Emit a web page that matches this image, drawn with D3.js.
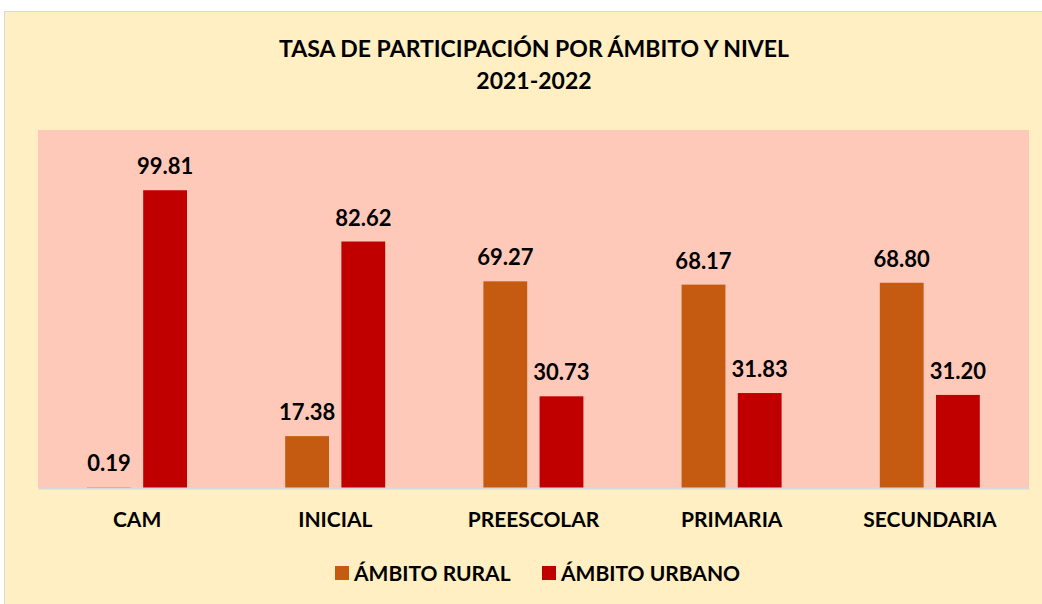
<!DOCTYPE html>
<html>
<head>
<meta charset="utf-8">
<script src="https://cdn.jsdelivr.net/npm/d3@7"></script>
<style>
  html, body { margin: 0; padding: 0; background: #ffffff; }
  svg text { font-family: Lato, "Open Sans", "Liberation Sans", sans-serif; font-weight: bold; fill: #000; }
</style>
</head>
<body>
<svg id="chart" width="1042" height="604"></svg>
<script>
// Participation rate by area and level, 2021-2022
const categories = ["CAM", "INICIAL", "PREESCOLAR", "PRIMARIA", "SECUNDARIA"];
const seriesNames = ["ÁMBITO RURAL", "ÁMBITO URBANO"];
const rural = [0.19, 17.38, 69.27, 68.17, 68.80];
const urbano = [99.81, 82.62, 30.73, 31.83, 31.20];
const titleLines = ["TASA DE PARTICIPACIÓN POR ÁMBITO Y NIVEL", "2021-2022"];

const colors = ["#C55A11", "#C00000"];
const plot = { left: 38, right: 1029, top: 130, bottom: 488 };

const svg = d3.select("#chart");

// outer chart area
svg.append("rect")
  .attr("x", 4.5).attr("y", 11.5).attr("width", 1040).attr("height", 600)
  .attr("fill", "#FFEFC2").attr("stroke", "#d9d9d9").attr("stroke-width", 1);

// plot area
svg.append("rect")
  .attr("x", plot.left).attr("y", plot.top)
  .attr("width", plot.right - plot.left).attr("height", plot.bottom - plot.top)
  .attr("fill", "#FFC9BA");

// title
svg.append("g").selectAll("text").data(titleLines).join("text")
  .attr("x", 534).attr("y", (d, i) => 57 + i * 32)
  .attr("text-anchor", "middle")
  .attr("font-size", 23)
  .text(d => d);

const x0 = d3.scaleBand().domain(categories).range([plot.left, plot.right]).padding(0);
const x1 = d3.scaleBand().domain(seriesNames).range([49, 149]).paddingInner(0.22);
const y = d3.scaleLinear().domain([0, 120]).range([plot.bottom, plot.top]);

const rows = categories.map((c, i) => ({ cat: c, vals: [rural[i], urbano[i]] }));

const groups = svg.append("g").selectAll("g").data(rows).join("g")
  .attr("transform", d => `translate(${x0(d.cat)},0)`);

groups.selectAll("rect").data(d => d.vals.map((v, j) => ({ v, s: seriesNames[j], j })))
  .join("rect")
  .attr("x", d => x1(d.s))
  .attr("y", d => y(d.v))
  .attr("width", x1.bandwidth())
  .attr("height", d => y(0) - y(d.v))
  .attr("fill", d => colors[d.j]);

groups.selectAll("text.val").data(d => d.vals.map((v, j) => ({ v, s: seriesNames[j], j })))
  .join("text")
  .attr("class", "val")
  .attr("x", d => x1(d.s) + x1.bandwidth() / 2)
  .attr("y", d => y(d.v) - 16)
  .attr("text-anchor", "middle")
  .attr("font-size", 22)
  .text(d => d.v.toFixed(2));

// category axis
const xAxis = svg.append("g")
  .attr("transform", `translate(0,${plot.bottom})`)
  .call(d3.axisBottom(x0).tickSize(0).tickPadding(24));
xAxis.select(".domain").attr("stroke", "#d9d9d9").attr("stroke-width", 2);
xAxis.selectAll("text")
  .attr("font-size", 21)
  .style("font-family", "Lato, 'Open Sans', sans-serif")
  .style("font-weight", "bold")
  .attr("fill", "#000");

// legend
const legendX = [335, 542];
const legend = svg.append("g").selectAll("g").data(seriesNames).join("g")
  .attr("transform", (d, i) => `translate(${legendX[i]},566)`);
legend.append("rect").attr("width", 14).attr("height", 14).attr("fill", (d, i) => colors[i]);
legend.append("text").attr("x", 19).attr("y", 15).attr("font-size", 21).text(d => d);
</script>
</body>
</html>
